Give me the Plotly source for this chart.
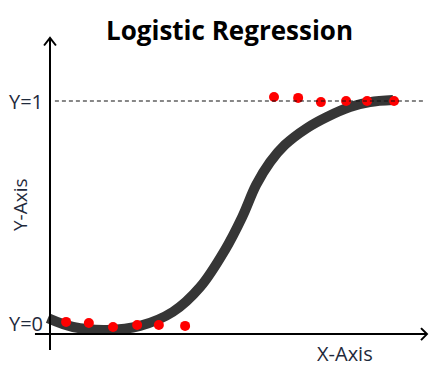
import plotly.graph_objects as go

# Data (x in arbitrary units, y as probability)
curve_x = [-0.06, 0.66, 1.63, 2.57, 3.51, 4.29, 5.0, 5.49, 5.89, 6.29, 6.71, 7.34, 7.91, 8.57, 9.14, 9.8]
curve_y = [0.022, -0.018, -0.031, -0.013, 0.05, 0.162, 0.329, 0.477, 0.622, 0.725, 0.802, 0.878, 0.928, 0.973, 0.995, 1.004]

dots_x = [0.46, 1.11, 1.8, 2.49, 3.11, 3.86, 6.4, 7.09, 7.74, 8.46, 9.06, 9.83]
dots_y = [0.005, 0.0, -0.018, -0.009, -0.009, -0.013, 1.018, 1.014, 0.995, 1.0, 1.0, 1.0]

y_labels = ["Y=0", "Y=1"]
y_label_vals = [0, 1]

TXT = "#1f2a3c"
FONT = "Open Sans"
OFF = 8  # page body margin in px


def px(x):
    return (x - OFF) / 448


def py(y):
    return 1 - (y - OFF) / 373


fig = go.Figure()
fig.add_trace(go.Scatter(x=curve_x, y=curve_y, mode="lines",
                         line=dict(color="#363636", width=10, shape="spline", smoothing=1.0),
                         hoverinfo="skip", showlegend=False))
fig.add_trace(go.Scatter(x=dots_x, y=dots_y, mode="markers", marker=dict(color="#ff0000", size=10),
                         showlegend=False))

shapes = []
# dashed Y=1 line
shapes.append(dict(type="line", xref="x", yref="y", x0=0.14, x1=10.66, y0=1, y1=1,
                   line=dict(color="#111111", width=1.2, dash="4px,3px")))
# vertical axis
shapes.append(dict(type="line", xref="x", yref="y", x0=0, x1=0, y0=-0.1216, y1=1.284,
                   line=dict(color="black", width=2)))
# horizontal axis
shapes.append(dict(type="line", xref="x", yref="y", x0=-0.43, x1=10.77, y0=-0.05, y1=-0.05,
                   line=dict(color="black", width=2)))
# arrow heads (chevrons)
shapes.append(dict(type="path", xref="x", yref="y",
                   path="M -0.17,1.25 L 0,1.284 L 0.17,1.25", line=dict(color="black", width=2)))
shapes.append(dict(type="path", xref="x", yref="y",
                   path="M 10.6,-0.023 L 10.77,-0.05 L 10.6,-0.077", line=dict(color="black", width=2)))

annotations = [
    dict(text="<b>Logistic Regression</b>", x=px(229), y=py(30), xref="paper", yref="paper",
         showarrow=False, font=dict(family=FONT, size=26, color="black"), xanchor="center", yanchor="middle"),
    dict(text="X-Axis", x=px(345), y=py(353), xref="paper", yref="paper", showarrow=False,
         font=dict(family=FONT, size=20, color=TXT), xanchor="center", yanchor="middle"),
    dict(text="Y-Axis", x=px(20), y=py(205), xref="paper", yref="paper", showarrow=False, textangle=-90,
         font=dict(family=FONT, size=19, color=TXT), xanchor="center", yanchor="middle"),
]
for lab, v in zip(y_labels, y_label_vals):
    annotations.append(dict(text=lab, x=-0.7, y=v, xref="x", yref="y", showarrow=False,
                            font=dict(family=FONT, size=20, color=TXT), xanchor="center", yanchor="middle"))

fig.update_layout(
    width=448, height=373, margin=dict(l=0, r=0, t=0, b=0),
    paper_bgcolor="white", plot_bgcolor="white",
    xaxis=dict(range=[(OFF - 50) / 35, (448 + OFF - 50) / 35], visible=False, fixedrange=True),
    yaxis=dict(range=[(323 - 373 - OFF) / 222, (323 - OFF) / 222], visible=False, fixedrange=True),
    shapes=shapes, annotations=annotations,
)
fig.write_html("out.html")
